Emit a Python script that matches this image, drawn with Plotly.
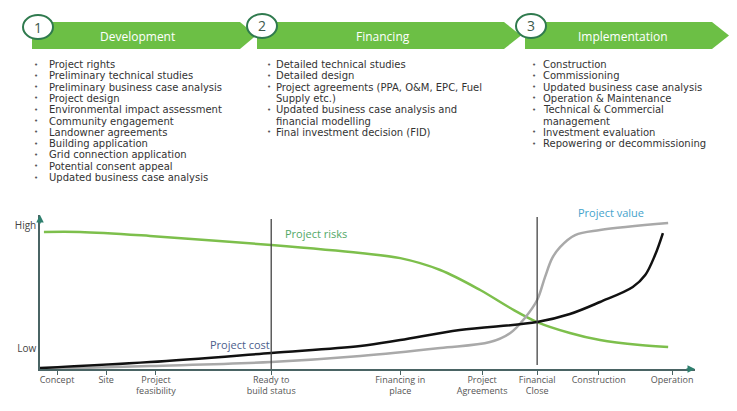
import plotly.graph_objects as go

W, H = 737, 411
OFF = 8  # page body margin in the browser

# Phases (top banner)
phase_names = ["Development", "Financing", "Implementation"]
phase_numbers = ["1", "2", "3"]
phase_tasks = [
    ["Project rights", "Preliminary technical studies", "Preliminary business case analysis",
     "Project design", "Environmental impact assessment", "Community engagement",
     "Landowner agreements", "Building application", "Grid connection application",
     "Potential consent appeal", "Updated business case analysis"],
    ["Detailed technical studies", "Detailed design",
     "Project agreements (PPA, O&M, EPC, Fuel\nSupply etc.)",
     "Updated business case analysis and\nfinancial modelling",
     "Final investment decision (FID)"],
    ["Construction", "Commissioning", "Updated business case analysis",
     "Operation & Maintenance", "Technical & Commercial\nmanagement",
     "Investment evaluation", "Repowering or decommissioning"],
]

# Milestones on the time axis (0-100 scale)
milestones = ["Concept", "Site", "Project<br>feasibility", "Ready to<br>build status",
              "Financing in<br>place", "Project<br>Agreements", "Financial<br>Close",
              "Construction", "Operation"]
milestone_x = [2.6, 10.1, 17.7, 35.3, 55.0, 67.5, 75.9, 85.3, 96.5]
level_ticks = [93, 13]
level_labels = ["High", "Low"]

# Curves (0-100 scale)
risk_x = [0.6, 6.1, 16.8, 35.3, 48.9, 55.0, 61.1, 67.2, 71.8, 75.9, 80.9, 85.5, 91.6, 95.9]
risk_y = [89, 89, 86.4, 80.5, 75.3, 72, 64.3, 51.3, 39.6, 30.5, 23.4, 18.8, 15.6, 14.3]

cost_x = [0.0, 16.8, 35.3, 48.9, 55.0, 64.1, 75.9, 80.9, 85.5, 90.5, 92.4, 93.9, 95.1]
cost_y = [0.6, 4.5, 10.4, 14.9, 18.8, 25.3, 30.5, 35.7, 43.5, 53.2, 61, 74, 88.3]

value_x = [0.6, 16.8, 35.3, 48.9, 61.1, 68.7, 71.8, 74.0, 75.9, 77.1, 78.2, 79.4, 81.7, 85.5, 95.9]
value_y = [0, 1.9, 4.5, 8.4, 13.6, 17.5, 23.4, 33, 44.8, 59.7, 72, 79.2, 87, 90.3, 94.8]


def fx(p):
    return (p - OFF) / W


def fy(p):
    return 1 - (p - OFF) / H


GREEN = "#6cbf45"
FONT = "Open Sans"
LIST_FONT = "DejaVu Sans"

fig = go.Figure()

fig.add_trace(go.Scatter(x=risk_x, y=risk_y, mode="lines",
                         line=dict(color="#7dbf4c", width=2.5, shape="spline"),
                         hoverinfo="skip", showlegend=False))
fig.add_trace(go.Scatter(x=value_x, y=value_y, mode="lines",
                         line=dict(color="#a9a9a9", width=2.5, shape="spline"),
                         hoverinfo="skip", showlegend=False))
fig.add_trace(go.Scatter(x=cost_x, y=cost_y, mode="lines",
                         line=dict(color="#111111", width=2.5, shape="spline"),
                         hoverinfo="skip", showlegend=False))

shapes = []
annotations = []


def label(x, y, text, size, color, xanchor="center", family=FONT):
    annotations.append(dict(x=x, y=y, xref="paper", yref="paper", text=text, showarrow=False,
                            xanchor=xanchor, yanchor="middle",
                            font=dict(family=family, size=size, color=color)))


# chevrons: (left, right of top edge, tip)
chevrons = [(32, 240, 256), (257, 504, 521), (525, 712, 729)]
top, bot, mid = 22, 49, 35.5
for (x0, x1, tip) in chevrons:
    path = (f"M {fx(x0)},{fy(top)} L {fx(x1)},{fy(top)} L {fx(tip)},{fy(mid)} "
            f"L {fx(x1)},{fy(bot)} L {fx(x0)},{fy(bot)} Z")
    shapes.append(dict(type="path", xref="paper", yref="paper", path=path,
                       fillcolor=GREEN, line=dict(width=0), layer="below"))

circles = [(38, 27), (262, 26), (531, 26)]
for (cx, cy), num in zip(circles, phase_numbers):
    shapes.append(dict(type="circle", xref="paper", yref="paper",
                       x0=fx(cx - 15), x1=fx(cx + 15), y0=fy(cy + 12), y1=fy(cy - 12),
                       fillcolor="white", line=dict(color="#2f7a4e", width=2)))
    label(fx(cx), fy(cy), num, 14, "#3d5a4c")

title_x = [137, 383, 623]
for name, tx in zip(phase_names, title_x):
    label(fx(tx), fy(36), name, 12, "white")

# bullet lists
bullet_x = [36, 269, 534]
text_x = [47, 274, 541]
y_start, step = 64.5, 11.3
for tasks, bx, tx in zip(phase_tasks, bullet_x, text_x):
    row = 0
    for task in tasks:
        label(fx(bx), fy(y_start + row * step), "•", 7, "#555555", family=LIST_FONT)
        for part in task.split("\n"):
            label(fx(tx), fy(y_start + row * step), part, 10, "#333333",
                  xanchor="left", family=LIST_FONT)
            row += 1

# milestone vertical lines
for i in (3, 6):
    shapes.append(dict(type="line", xref="x", yref="y", x0=milestone_x[i], x1=milestone_x[i],
                       y0=0 if i == 3 else 2.6, y1=97.4 if i == 3 else 98.7,
                       line=dict(color="#444444", width=1.3)))

# axis arrows
AX = "#2e7f6e"
annotations.append(dict(x=100, y=0, xref="x", yref="y", ax=-10, ay=0, text="",
                        showarrow=True, arrowhead=2, arrowsize=1, arrowwidth=1.5, arrowcolor=AX))
annotations.append(dict(x=0, y=100, xref="x", yref="y", ax=0, ay=10, text="",
                        showarrow=True, arrowhead=2, arrowsize=1, arrowwidth=1.5, arrowcolor=AX))

# curve labels
label(fx(316), fy(233), "Project risks", 11, "#52a867")
label(fx(240), fy(344), "Project cost", 11, "#4c5e8c")
label(fx(611), fy(213), "Project value", 11, "#45a3cc")

fig.update_layout(
    width=W, height=H,
    margin=dict(l=0, r=0, t=0, b=0),
    paper_bgcolor="white", plot_bgcolor="white",
    font=dict(family=FONT),
    shapes=shapes, annotations=annotations,
    xaxis=dict(domain=[fx(40), fx(695)], range=[0, 100], showgrid=False, zeroline=False,
               showline=True, linecolor="#4a6464", linewidth=1.5,
               ticks="outside", ticklen=4, tickcolor="#4a6464", tickwidth=1.2,
               ticklabelstandoff=-3,
               tickvals=milestone_x, ticktext=milestones,
               tickfont=dict(family=FONT, size=9, color="#555555")),
    yaxis=dict(domain=[fy(369), fy(215)], range=[0, 100], showgrid=False, zeroline=False,
               showline=True, linecolor="#4a6464", linewidth=1.5,
               ticks="", tickvals=level_ticks, ticktext=level_labels,
               tickfont=dict(family=FONT, size=10, color="#444444")),
)

fig.write_html("out.html")
